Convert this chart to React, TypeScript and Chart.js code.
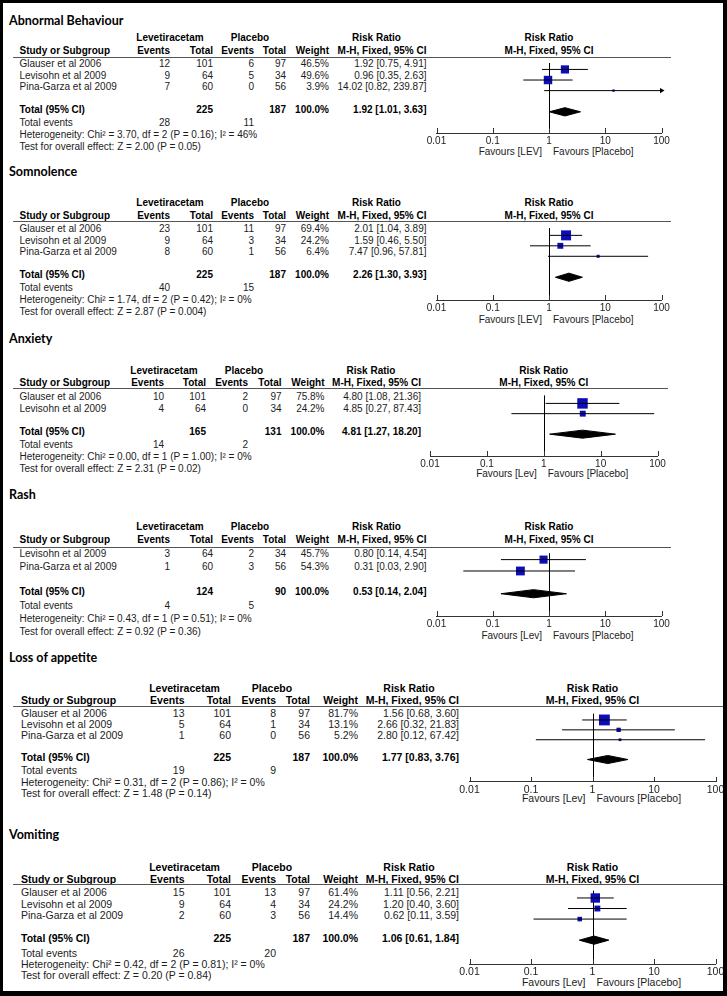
import React, { useEffect, useRef } from 'react';
import { Chart, registerables } from 'chart.js';

Chart.register(...registerables);

// ---------------- DATA ----------------
const panelTitles = ['Abnormal Behaviour', 'Somnolence', 'Anxiety', 'Rash', 'Loss of appetite', 'Vomiting'];
const favoursLeft = ['Favours [LEV]', 'Favours [LEV]', 'Favours [Lev]', 'Favours [Lev]', 'Favours [Lev]', 'Favours [Lev]'];
const favoursRight = 'Favours [Placebo]';
const tickValues = [0.01, 0.1, 1, 10, 100];
const tickLabels = ['0.01', '0.1', '1', '10', '100'];

// Abnormal Behaviour
const abStudies = ['Glauser et al 2006', 'Levisohn et al 2009', 'Pina-Garza et al 2009'];
const abLevEvents = [12, 9, 7];
const abLevTotal = [101, 64, 60];
const abPlaEvents = [6, 5, 0];
const abPlaTotal = [97, 34, 56];
const abWeight = [46.5, 49.6, 3.9];
const abRR = [1.92, 0.96, 14.02];
const abLow = [0.75, 0.35, 0.82];
const abHigh = [4.91, 2.63, 239.87];
const abPooled = [1.92, 1.01, 3.63];
const abTotals = [225, 187];
const abTotalEvents = [28, 11];
const abHet = 'Heterogeneity: Chi² = 3.70, df = 2 (P = 0.16); I² = 46%';
const abTest = 'Test for overall effect: Z = 2.00 (P = 0.05)';

// Somnolence
const soStudies = ['Glauser et al 2006', 'Levisohn et al 2009', 'Pina-Garza et al 2009'];
const soLevEvents = [23, 9, 8];
const soLevTotal = [101, 64, 60];
const soPlaEvents = [11, 3, 1];
const soPlaTotal = [97, 34, 56];
const soWeight = [69.4, 24.2, 6.4];
const soRR = [2.01, 1.59, 7.47];
const soLow = [1.04, 0.46, 0.96];
const soHigh = [3.89, 5.5, 57.81];
const soPooled = [2.26, 1.3, 3.93];
const soTotals = [225, 187];
const soTotalEvents = [40, 15];
const soHet = 'Heterogeneity: Chi² = 1.74, df = 2 (P = 0.42); I² = 0%';
const soTest = 'Test for overall effect: Z = 2.87 (P = 0.004)';

// Anxiety
const axStudies = ['Glauser et al 2006', 'Levisohn et al 2009'];
const axLevEvents = [10, 4];
const axLevTotal = [101, 64];
const axPlaEvents = [2, 0];
const axPlaTotal = [97, 34];
const axWeight = [75.8, 24.2];
const axRR = [4.8, 4.85];
const axLow = [1.08, 0.27];
const axHigh = [21.36, 87.43];
const axPooled = [4.81, 1.27, 18.2];
const axTotals = [165, 131];
const axTotalEvents = [14, 2];
const axHet = 'Heterogeneity: Chi² = 0.00, df = 1 (P = 1.00); I² = 0%';
const axTest = 'Test for overall effect: Z = 2.31 (P = 0.02)';

// Rash
const raStudies = ['Levisohn et al 2009', 'Pina-Garza et al 2009'];
const raLevEvents = [3, 1];
const raLevTotal = [64, 60];
const raPlaEvents = [2, 3];
const raPlaTotal = [34, 56];
const raWeight = [45.7, 54.3];
const raRR = [0.8, 0.31];
const raLow = [0.14, 0.03];
const raHigh = [4.54, 2.9];
const raPooled = [0.53, 0.14, 2.04];
const raTotals = [124, 90];
const raTotalEvents = [4, 5];
const raHet = 'Heterogeneity: Chi² = 0.43, df = 1 (P = 0.51); I² = 0%';
const raTest = 'Test for overall effect: Z = 0.92 (P = 0.36)';

// Loss of appetite
const laStudies = ['Glauser et al 2006', 'Levisohn et al 2009', 'Pina-Garza et al 2009'];
const laLevEvents = [13, 5, 1];
const laLevTotal = [101, 64, 60];
const laPlaEvents = [8, 1, 0];
const laPlaTotal = [97, 34, 56];
const laWeight = [81.7, 13.1, 5.2];
const laRR = [1.56, 2.66, 2.8];
const laLow = [0.68, 0.32, 0.12];
const laHigh = [3.6, 21.83, 67.42];
const laPooled = [1.77, 0.83, 3.76];
const laTotals = [225, 187];
const laTotalEvents = [19, 9];
const laHet = 'Heterogeneity: Chi² = 0.31, df = 2 (P = 0.86); I² = 0%';
const laTest = 'Test for overall effect: Z = 1.48 (P = 0.14)';

// Vomiting
const voStudies = ['Glauser et al 2006', 'Levisohn et al 2009', 'Pina-Garza et al 2009'];
const voLevEvents = [15, 9, 2];
const voLevTotal = [101, 64, 60];
const voPlaEvents = [13, 4, 3];
const voPlaTotal = [97, 34, 56];
const voWeight = [61.4, 24.2, 14.4];
const voRR = [1.11, 1.2, 0.62];
const voLow = [0.56, 0.4, 0.11];
const voHigh = [2.21, 3.6, 3.59];
const voPooled = [1.06, 0.61, 1.84];
const voTotals = [225, 187];
const voTotalEvents = [26, 20];
const voHet = 'Heterogeneity: Chi² = 0.42, df = 2 (P = 0.81); I² = 0%';
const voTest = 'Test for overall effect: Z = 0.20 (P = 0.84)';

// ---------------- LAYOUT ----------------
const colsA = { study: 19.5, levEv: 170, levTot: 213, plaEv: 254, plaTot: 286, weight: 329, ci: 426.5, x001: 436.5, x100: 661.5, lineEnd: 671, fs: 10 };
const colsC = { study: 19.5, levEv: 164, levTot: 206, plaEv: 248, plaTot: 281.5, weight: 324.5, ci: 421, x001: 430, x100: 657.5, lineEnd: 668, fs: 10 };
const colsE = { study: 21, levEv: 184.5, levTot: 231, plaEv: 276, plaTot: 310, weight: 358, ci: 459, x001: 469.5, x100: 715.5, lineEnd: 724, fs: 10.5 };

const rowsLayout = [
  { title: 21, h1: 38, h2: 51, line: 57, row0: 64, rowH: 11.5, te: 123, het: 135, test: 147, axis: 133, fav: 152 },
  { title: 172, h1: 203, h2: 216, line: 221, row0: 229, rowH: 11.5, te: 288, het: 300, test: 312, axis: 300, fav: 320 },
  { title: 339, h1: 371, h2: 383, line: 388, row0: 397, rowH: 11.5, te: 445, het: 457, test: 469, axis: 456, fav: 474 },
  { title: 495, h1: 527, h2: 540, line: 547, row0: 554, rowH: 12.5, te: 606, het: 619, test: 632, axis: 616, fav: 636 },
  { title: 658, h1: 688, h2: 700, line: 706, row0: 713, rowH: 11, te: 770, het: 782, test: 793, axis: 782, fav: 798 },
  { title: 835, h1: 867, h2: 879, line: 884, row0: 892, rowH: 11.5, te: 953, het: 964, test: 975, axis: 964, fav: 982 },
];
const colsLayout = [colsA, colsA, colsC, colsA, colsE, colsE];

const panelData = [
  { studies: abStudies, levEv: abLevEvents, levTot: abLevTotal, plaEv: abPlaEvents, plaTot: abPlaTotal, weight: abWeight, rr: abRR, lo: abLow, hi: abHigh, pooled: abPooled, totals: abTotals, totalEvents: abTotalEvents, het: abHet, test: abTest },
  { studies: soStudies, levEv: soLevEvents, levTot: soLevTotal, plaEv: soPlaEvents, plaTot: soPlaTotal, weight: soWeight, rr: soRR, lo: soLow, hi: soHigh, pooled: soPooled, totals: soTotals, totalEvents: soTotalEvents, het: soHet, test: soTest },
  { studies: axStudies, levEv: axLevEvents, levTot: axLevTotal, plaEv: axPlaEvents, plaTot: axPlaTotal, weight: axWeight, rr: axRR, lo: axLow, hi: axHigh, pooled: axPooled, totals: axTotals, totalEvents: axTotalEvents, het: axHet, test: axTest },
  { studies: raStudies, levEv: raLevEvents, levTot: raLevTotal, plaEv: raPlaEvents, plaTot: raPlaTotal, weight: raWeight, rr: raRR, lo: raLow, hi: raHigh, pooled: raPooled, totals: raTotals, totalEvents: raTotalEvents, het: raHet, test: raTest },
  { studies: laStudies, levEv: laLevEvents, levTot: laLevTotal, plaEv: laPlaEvents, plaTot: laPlaTotal, weight: laWeight, rr: laRR, lo: laLow, hi: laHigh, pooled: laPooled, totals: laTotals, totalEvents: laTotalEvents, het: laHet, test: laTest },
  { studies: voStudies, levEv: voLevEvents, levTot: voLevTotal, plaEv: voPlaEvents, plaTot: voPlaTotal, weight: voWeight, rr: voRR, lo: voLow, hi: voHigh, pooled: voPooled, totals: voTotals, totalEvents: voTotalEvents, het: voHet, test: voTest },
];

const W = 727;
const H = 996;
const FONT = "'Liberation Sans', Arial, Helvetica, sans-serif";
const TITLE_FONT = "Lato, 'Open Sans', sans-serif";
const BLUE = '#0c0cb8';
const TEXT = '#1c1c1c';

const f2 = (v: number) => v.toFixed(2);
const ciText = (r: number, l: number, h: number) => `${f2(r)} [${f2(l)}, ${f2(h)}]`;

function Txt({ x, y, s, a = 'l', b = false, fs = 10 }: { x: number; y: number; s: string | number; a?: 'l' | 'r' | 'c'; b?: boolean; fs?: number }) {
  const style: React.CSSProperties = {
    position: 'absolute',
    top: y - 6,
    height: 12,
    lineHeight: '12px',
    fontSize: fs,
    fontFamily: FONT,
    fontWeight: b ? 700 : 400,
    whiteSpace: 'nowrap',
    color: b ? '#000' : TEXT,
  };
  if (a === 'l') style.left = x;
  else if (a === 'r') style.right = W - x;
  else {
    style.left = x;
    style.transform = 'translateX(-50%)';
  }
  return <span style={style}>{s}</span>;
}

const forestPlugin = {
  id: 'forestRefs',
  beforeDatasetsDraw(chart: any) {
    const { ctx, chartArea, scales } = chart;
    const x = scales.x;
    ctx.save();
    ctx.lineWidth = 1;
    ctx.strokeStyle = '#000';
    const px = Math.round(x.getPixelForValue(1)) + 0.5;
    ctx.beginPath();
    ctx.moveTo(px, chartArea.top);
    ctx.lineTo(px, chartArea.bottom);
    ctx.stroke();
    ctx.strokeStyle = '#333';
    ctx.beginPath();
    x.ticks.forEach((t: any) => {
      const tx = Math.round(x.getPixelForValue(t.value)) + 0.5;
      ctx.moveTo(tx, chartArea.bottom - 5);
      ctx.lineTo(tx, chartArea.bottom);
    });
    ctx.stroke();
    ctx.restore();
  },
};

function Forest({ d, L, C }: { d: any; L: any; C: any }) {
  const ref = useRef<HTMLCanvasElement>(null);
  const axisH = 16;
  const left = Math.floor(C.x001 - 15);
  const width = Math.ceil(C.x100 + 15 - left);
  const padL = C.x001 - left;
  const padR = left + width - C.x100;
  const top = L.line;
  const height = L.axis - L.line + axisH;

  useEffect(() => {
    const canvas = ref.current;
    if (!canvas) return;
    const n = d.studies.length;
    const datasets: any[] = [];
    d.rr.forEach((_: number, i: number) => {
      const over = d.hi[i] > 100;
      datasets.push({
        type: 'line',
        data: [
          { x: d.lo[i], y: i },
          { x: Math.min(d.hi[i], 100), y: i },
        ],
        showLine: true,
        borderColor: '#000',
        borderWidth: 1,
        pointRadius: [0, over ? 3 : 0],
        pointStyle: 'triangle',
        rotation: 90,
        pointBackgroundColor: '#000',
        pointBorderColor: '#000',
        pointBorderWidth: 0,
        fill: false,
        clip: false,
      });
    });
    datasets.push({
      type: 'scatter',
      data: d.rr.map((v: number, i: number) => ({ x: v, y: i })),
      pointStyle: 'rect',
      pointRadius: d.weight.map((w: number) => Math.max(2, 12 * Math.sqrt(w / 100)) / Math.SQRT2),
      backgroundColor: BLUE,
      borderWidth: 0,
      clip: false,
    });
    const t = n + 1;
    const dh = 4.5 / L.rowH;
    const [pr, pl, ph] = d.pooled;
    datasets.push({
      type: 'line',
      data: [
        { x: pl, y: t },
        { x: pr, y: t - dh },
        { x: ph, y: t },
        { x: pr, y: t + dh },
        { x: pl, y: t },
      ],
      showLine: true,
      fill: 'shape',
      backgroundColor: '#000',
      borderColor: '#000',
      borderWidth: 1,
      pointRadius: 0,
      tension: 0,
      clip: false,
    });

    const chart = new Chart(canvas, {
      type: 'scatter',
      data: { datasets },
      options: {
        animation: false,
        responsive: false,
        events: [],
        layout: { padding: { left: padL, right: padR, top: 0, bottom: 0 } },
        plugins: { legend: { display: false }, tooltip: { enabled: false } },
        scales: {
          x: {
            type: 'logarithmic',
            min: 0.01,
            max: 100,
            position: 'bottom',
            grid: { display: false, drawTicks: false },
            border: { display: true, color: '#333', width: 1 },
            afterBuildTicks: (s: any) => {
              s.ticks = tickValues.map((v) => ({ value: v }));
            },
            afterFit: (s: any) => {
              s.height = axisH;
            },
            ticks: {
              autoSkip: false,
              maxRotation: 0,
              padding: 2,
              color: '#222',
              font: { family: FONT, size: C.fs },
              callback: (v: any) => {
                const k = tickValues.indexOf(Number(v));
                return k >= 0 ? tickLabels[k] : '';
              },
            },
          },
          y: {
            type: 'linear',
            display: false,
            reverse: true,
            min: (L.line - L.row0) / L.rowH,
            max: (L.axis - L.row0) / L.rowH,
          },
        },
      } as any,
      plugins: [forestPlugin],
    });
    return () => chart.destroy();
  }, []);

  return (
    <canvas
      ref={ref}
      width={width}
      height={height}
      style={{ position: 'absolute', left, top, width, height }}
    />
  );
}

function Panel({ idx }: { idx: number }) {
  const d = panelData[idx];
  const L = rowsLayout[idx];
  const C = colsLayout[idx];
  const fs = C.fs;
  const x1 = (C.x001 + C.x100) / 2;
  const n = d.studies.length;
  const rowY = (i: number) => L.row0 + i * L.rowH;
  const totY = rowY(n + 1);
  return (
    <>
      <span
        style={{
          position: 'absolute',
          left: 9,
          top: L.title - 8,
          lineHeight: '16px',
          fontSize: 12.5,
          fontFamily: TITLE_FONT,
          fontWeight: 700,
          color: '#000',
          whiteSpace: 'nowrap',
        }}
      >
        {panelTitles[idx]}
      </span>
      <Txt x={C.levEv} y={L.h1} s="Levetiracetam" a="c" b fs={fs} />
      <Txt x={C.plaEv - 4} y={L.h1} s="Placebo" a="c" b fs={fs} />
      <Txt x={C.ci - 50} y={L.h1} s="Risk Ratio" a="c" b fs={fs} />
      <Txt x={x1} y={L.h1} s="Risk Ratio" a="c" b fs={fs} />
      <Txt x={C.study} y={L.h2} s="Study or Subgroup" b fs={fs} />
      <Txt x={C.levEv} y={L.h2} s="Events" a="r" b fs={fs} />
      <Txt x={C.levTot} y={L.h2} s="Total" a="r" b fs={fs} />
      <Txt x={C.plaEv} y={L.h2} s="Events" a="r" b fs={fs} />
      <Txt x={C.plaTot} y={L.h2} s="Total" a="r" b fs={fs} />
      <Txt x={C.weight} y={L.h2} s="Weight" a="r" b fs={fs} />
      <Txt x={C.ci} y={L.h2} s="M-H, Fixed, 95% CI" a="r" b fs={fs} />
      <Txt x={x1} y={L.h2} s="M-H, Fixed, 95% CI" a="c" b fs={fs} />
      <div style={{ position: 'absolute', left: 13, top: L.line, width: C.lineEnd - 13, height: 1, background: '#555' }} />
      {d.studies.map((s: string, i: number) => (
        <React.Fragment key={i}>
          <Txt x={C.study} y={rowY(i)} s={s} fs={fs} />
          <Txt x={C.levEv} y={rowY(i)} s={d.levEv[i]} a="r" fs={fs} />
          <Txt x={C.levTot} y={rowY(i)} s={d.levTot[i]} a="r" fs={fs} />
          <Txt x={C.plaEv} y={rowY(i)} s={d.plaEv[i]} a="r" fs={fs} />
          <Txt x={C.plaTot} y={rowY(i)} s={d.plaTot[i]} a="r" fs={fs} />
          <Txt x={C.weight} y={rowY(i)} s={`${d.weight[i].toFixed(1)}%`} a="r" fs={fs} />
          <Txt x={C.ci} y={rowY(i)} s={ciText(d.rr[i], d.lo[i], d.hi[i])} a="r" fs={fs} />
        </React.Fragment>
      ))}
      <Txt x={C.study} y={totY} s="Total (95% CI)" b fs={fs} />
      <Txt x={C.levTot} y={totY} s={d.totals[0]} a="r" b fs={fs} />
      <Txt x={C.plaTot} y={totY} s={d.totals[1]} a="r" b fs={fs} />
      <Txt x={C.weight} y={totY} s="100.0%" a="r" b fs={fs} />
      <Txt x={C.ci} y={totY} s={ciText(d.pooled[0], d.pooled[1], d.pooled[2])} a="r" b fs={fs} />
      <Txt x={C.study} y={L.te} s="Total events" fs={fs} />
      <Txt x={C.levEv} y={L.te} s={d.totalEvents[0]} a="r" fs={fs} />
      <Txt x={C.plaEv} y={L.te} s={d.totalEvents[1]} a="r" fs={fs} />
      <Txt x={C.study} y={L.het} s={d.het} fs={fs} />
      <Txt x={C.study} y={L.test} s={d.test} fs={fs} />
      <Txt x={x1 - 7} y={L.fav} s={favoursLeft[idx]} a="r" fs={fs} />
      <Txt x={x1 + 4} y={L.fav} s={favoursRight} fs={fs} />
      <Forest d={d} L={L} C={C} />
    </>
  );
}

export default function App() {
  return (
    <div style={{ position: 'absolute', left: 0, top: 0, width: W, height: H, background: '#fff', overflow: 'hidden' }}>
      {panelData.map((_, i) => (
        <Panel key={i} idx={i} />
      ))}
      <div
        style={{
          position: 'absolute',
          left: 0,
          top: 0,
          width: W,
          height: H,
          boxSizing: 'border-box',
          borderStyle: 'solid',
          borderColor: '#000',
          borderWidth: '3px 4px 5px 3px',
          pointerEvents: 'none',
        }}
      />
    </div>
  );
}
